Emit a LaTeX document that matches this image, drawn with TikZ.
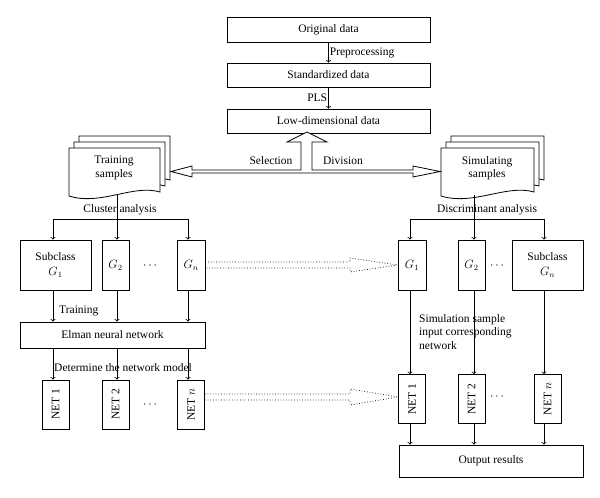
\documentclass[tikz,border=0pt]{standalone}
\usepackage{fontspec}
\setmainfont{Liberation Serif}
\begin{document}
\begin{tikzpicture}[x=1pt,y=-1pt,font=\fontsize{11.5}{13.5}\selectfont,
  box/.style={draw,line width=0.8pt,inner sep=0pt,align=center},
  net/.style={box,rotate=90,minimum width=49,minimum height=27},
  arr/.style={->,line width=0.8pt,>={to}},
  lbl/.style={inner sep=1pt,fill=none}]
\useasboundingbox (0,0) rectangle (600,498);
% top
\node[box,minimum width=203,minimum height=25] (orig) at (328.5,29.5) {Original data};
\node[box,minimum width=203,minimum height=24] (std) at (328.5,75) {Standardized data};
\node[box,minimum width=203,minimum height=24] (low) at (328.5,121) {Low-dimensional data};
\draw[arr] (orig) -- (std) node[midway,right,lbl] {Preprocessing};
\draw[arr] (std) -- (low) node[midway,left,lbl] {PLS};
% documents
\newcommand{\docpage}[4]{% left top width height
  \draw[line width=0.8pt,fill=white] (#1,#2) -- (#1+#3,#2) -- (#1+#3,#2+#4-6)
   .. controls (#1+0.7*#3,#2+#4-14) and (#1+0.35*#3,#2+#4+8) .. (#1,#2+#4-2) -- cycle;}
\docpage{79}{136}{91}{50}\docpage{74}{142}{91}{50}\docpage{69}{148}{91}{50}
\docpage{451}{136}{93}{50}\docpage{446}{142}{93}{50}\docpage{441}{148}{93}{50}
\node[align=center] (train) at (114,168) {Training\\samples};
\node[align=center] (sim) at (487,168) {Simulating\\samples};
\coordinate (tb) at (117,195);
\coordinate (sb) at (474,195);
% hollow arrows
\draw[line width=0.8pt,fill=white] (171,171.5) -- (192,166) -- (192,170) -- (301,170) -- (301,142) -- (287,142)
  -- (307,132) -- (327,142) -- (312,142) -- (312,170) -- (413,170) -- (413,166) -- (440,171.5)
  -- (413,177) -- (413,173) -- (192,173) -- (192,177) -- cycle;
\node[lbl] at (271,161) {Selection};
\node[lbl] at (343,161) {Division};
% left subclasses
\node[box,minimum width=71,minimum height=50] (g1) at (55.5,265) {Subclass\\[2pt]$G_1$};
\node[box,minimum width=27,minimum height=50] (g2) at (115.5,265) {$G_2$};
\node[box,minimum width=28,minimum height=50] (gn) at (191,265) {$G_n$};
\node at (150,266) {$\cdots$};
\draw[line width=0.8pt] (53,219) -- (188,219);
\draw[arr] (tb) -- (g2.north -| tb);
\draw[arr] (53,219) -- (g1.north -| 53,0);
\draw[arr] (188,219) -- (gn.north -| 188,0);
\node[lbl] at (120,210) {Cluster analysis};
% right subclasses
\node[box,minimum width=28,minimum height=50] (h1) at (412,265) {$G_1$};
\node[box,minimum width=27,minimum height=50] (h2) at (471.5,265) {$G_2$};
\node[box,minimum width=71,minimum height=50] (hn) at (547.5,265) {Subclass\\[2pt]$G_n$};
\node at (497,266) {$\cdots$};
\draw[line width=0.8pt] (410,219) -- (544,219);
\draw[arr] (sb) -- (h2.north -| sb);
\draw[arr] (410,219) -- (h1.north -| 410,0);
\draw[arr] (544,219) -- (hn.north -| 544,0);
\node[lbl] at (487,210) {Discriminant analysis};
% dotted hollow arrows
\draw[dotted,line width=0.7pt] (gn.east |- 0,262) -- (350,262) -- (350,258) -- (h1.west |- 0,265) -- (350,272) -- (350,268) -- (gn.east |- 0,268);
% Elman
\node[box,minimum width=185,minimum height=26] (elman) at (112.5,335) {Elman neural network};
\draw[arr] (g1.south -| 53,0) -- (elman.north -| 53,0);
\draw[arr] (g2.south -| tb) -- (elman.north -| tb);
\draw[arr] (gn.south -| 188,0) -- (elman.north -| 188,0);
\node[lbl,anchor=west] at (58,311) {Training};
% left nets
\node[net] (n1) at (55.5,404.5) {NET 1};
\node[net] (n2) at (115.5,404.5) {NET 2};
\node[net] (nn) at (191,404.5) {NET $n$};
\node at (150,405) {$\cdots$};
\draw[arr] (elman.south -| 53,0) -- (n1.east -| 53,0);
\draw[arr] (elman.south -| tb) -- (n2.east -| tb);
\draw[arr] (elman.south -| 188,0) -- (nn.east -| 188,0);
\node[lbl,anchor=west] at (53,368) {Determine the network model};
% right nets
\node[net] (m1) at (412,399) {NET 1};
\node[net] (m2) at (471.5,399) {NET 2};
\node[net] (mn) at (547.5,399) {NET $n$};
\node at (497,397) {$\cdots$};
\draw[arr] (h1.south -| 410,0) -- (m1.east -| 410,0);
\draw[arr] (h2.south -| sb) -- (m2.east -| sb);
\draw[arr] (hn.south -| 544,0) -- (mn.east -| 544,0);
\node[lbl,anchor=north west,align=left] at (418,313) {Simulation sample\\input corresponding\\network};
\draw[dotted,line width=0.7pt] (nn.south |- 0,394) -- (350,394) -- (350,389) -- (m1.north |- 0,397) -- (350,405) -- (350,400) -- (nn.south |- 0,400);
% output
\node[box,minimum width=184,minimum height=32] (out) at (491,461) {Output results};
\draw[arr] (m1.west -| 410,0) -- (out.north -| 410,0);
\draw[arr] (m2.west -| sb) -- (out.north -| sb);
\draw[arr] (mn.west -| 544,0) -- (out.north -| 544,0);
\end{tikzpicture}
\end{document}
